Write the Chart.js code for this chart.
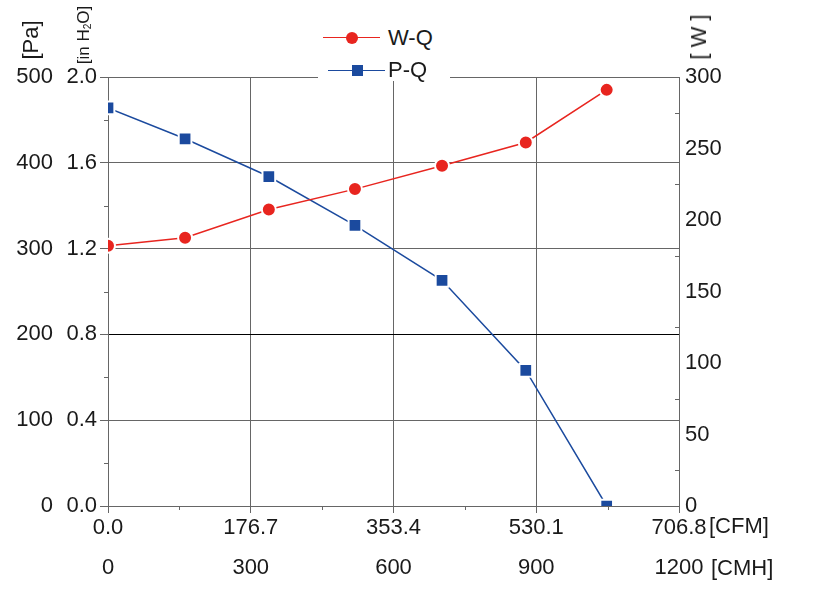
<!DOCTYPE html>
<html><head><meta charset="utf-8">
<script src="https://cdn.jsdelivr.net/npm/chart.js@4.4.1/dist/chart.umd.min.js"></script>
<style>
html,body{margin:0;padding:0;background:#fff;}
#wrap{position:relative;width:817px;height:598px;overflow:hidden;font-family:'Liberation Sans',Arial,sans-serif;color:#1a1a1a;}
canvas{position:absolute;left:0;top:0;}
.t{position:absolute;white-space:nowrap;line-height:1;}
.rot{transform:translate(-50%,-50%) rotate(-90deg);}
.mid{transform:translateY(-50%);}
sub{font-size:0.6em;vertical-align:-0.25em;line-height:0;}
</style></head>
<body><div id="wrap"><canvas id="c" width="817" height="598"></canvas>
<div class="t rot" style="left:31px;top:40px;font-size:22px">[Pa]</div>
<div class="t rot" style="left:83px;top:35px;font-size:17px">[in H<sub>2</sub>O]</div>
<div class="t rot" style="left:699px;top:37px;font-size:22px">[ W ]</div>
<div class="t mid" style="left:709px;top:526px;font-size:22px">[CFM]</div>
<div class="t mid" style="left:711px;top:568px;font-size:22px">[CMH]</div>
<div style="position:absolute;left:318px;top:20px;width:132px;height:61px;background:#fff;"></div>
<div style="position:absolute;left:323px;top:36.5px;width:57px;height:1.5px;background:#e8251f;"></div>
<div style="position:absolute;left:346px;top:31.5px;width:12px;height:12px;border-radius:50%;background:#e8251f;"></div>
<div class="t mid" style="left:388px;top:38px;font-size:22px">W-Q</div>
<div style="position:absolute;left:328px;top:69.5px;width:57px;height:1.5px;background:#1b4a9e;"></div>
<div style="position:absolute;left:352px;top:64.5px;width:11px;height:11px;background:#1b4a9e;"></div>
<div class="t mid" style="left:388px;top:70px;font-size:22px">P-Q</div>
</div>
<script>
// ---- data ----
const airflowCMH = [0, 162, 338, 519, 702, 878, 1048];
const pressurePa = [464, 428, 384, 327, 263, 158, 0];
const powerW = [182, 187.6, 207.4, 221.6, 237.9, 254.2, 291];
const cmhTicks = [0, 300, 600, 900, 1200];
const cfmTicks = [0, 176.7, 353.4, 530.1, 706.8];
const paTicks = [0, 100, 200, 300, 400, 500];
const inH2OTicks = [0, 0.4, 0.8, 1.2, 1.6, 2.0];
const wattTicks = [0, 50, 100, 150, 200, 250, 300];
const seriesNames = ['W-Q', 'P-Q'];

const RED = '#e8251f', BLUE = '#1b4a9e', GRID = '#666666', TXT = '#1a1a1a';
const FONT = {family: "'Liberation Sans', Arial, sans-serif", size: 22};

const minorTicks = {
  id: 'minorTicks',
  afterDraw(chart) {
    const c = chart.ctx, a = chart.chartArea, s = chart.scales;
    c.save(); c.strokeStyle = GRID; c.lineWidth = 1;
    c.beginPath();
    for (let i = 0; i < cmhTicks.length - 1; i++) {
      const x = Math.round(s.x.getPixelForValue((cmhTicks[i] + cmhTicks[i + 1]) / 2)) + 0.5;
      c.moveTo(x, a.bottom); c.lineTo(x, a.bottom + 4);
    }
    for (let i = 0; i < inH2OTicks.length - 1; i++) {
      const y = Math.round(s.yH2O.getPixelForValue((inH2OTicks[i] + inH2OTicks[i + 1]) / 2)) + 0.5;
      c.moveTo(a.left, y); c.lineTo(a.left - 4, y);
    }
    for (let i = 0; i < wattTicks.length - 1; i++) {
      const y = Math.round(s.yW.getPixelForValue((wattTicks[i] + wattTicks[i + 1]) / 2)) + 0.5;
      c.moveTo(a.right, y); c.lineTo(a.right - 4, y);
    }
    c.stroke(); c.restore();
  }
};

new Chart(document.getElementById('c'), {
  type: 'line',
  data: {
    datasets: [
      {label: seriesNames[0], data: airflowCMH.map((q, i) => ({x: q, y: powerW[i]})), yAxisID: 'yW', xAxisID: 'x',
       borderColor: RED, backgroundColor: RED, borderWidth: 1.5, tension: 0,
       pointStyle: 'circle', pointRadius: 7, pointBackgroundColor: RED, pointBorderColor: '#fff', pointBorderWidth: 2},
      {label: seriesNames[1], data: airflowCMH.map((q, i) => ({x: q, y: pressurePa[i]})), yAxisID: 'yPa', xAxisID: 'x',
       borderColor: BLUE, backgroundColor: BLUE, borderWidth: 1.5, tension: 0,
       pointStyle: 'rect', pointRadius: 9, pointBackgroundColor: BLUE, pointBorderColor: '#fff', pointBorderWidth: 2}
    ]
  },
  options: {
    responsive: false, animation: false, devicePixelRatio: 1,
    layout: {padding: {top: 77, bottom: 17, left: 0, right: 0}},
    plugins: {legend: {display: false}, tooltip: {enabled: false}},
    scales: {
      xCFM: {type: 'linear', position: 'bottom', weight: 0, min: 0, max: 706.8,
        afterBuildTicks: s => { s.ticks = cfmTicks.map(v => ({value: v})); },
        afterFit: s => { s.height = 35; },
        ticks: {font: FONT, color: TXT, padding: 2, maxRotation: 0, autoSkip: false, callback: v => v.toFixed(1)},
        grid: {drawOnChartArea: false, drawTicks: true, tickLength: 7, tickColor: GRID},
        border: {display: true, color: GRID}},
      x: {type: 'linear', position: 'bottom', weight: 1, min: 0, max: 1200,
        afterBuildTicks: s => { s.ticks = cmhTicks.map(v => ({value: v})); },
        afterFit: s => { s.height = 40; },
        ticks: {font: FONT, color: TXT, padding: 14, maxRotation: 0, autoSkip: false, callback: v => String(v)},
        grid: {color: GRID, drawTicks: false, lineWidth: 1},
        border: {display: false}},
      yPa: {type: 'linear', position: 'left', weight: 1, min: 0, max: 500,
        afterBuildTicks: s => { s.ticks = paTicks.map(v => ({value: v})); },
        afterFit: s => { s.width = 56; },
        ticks: {font: FONT, color: TXT, padding: 3, callback: v => String(v)},
        grid: {display: false, drawTicks: false}, border: {display: false}},
      yH2O: {type: 'linear', position: 'left', weight: 0, min: 0, max: 2.0,
        afterBuildTicks: s => { s.ticks = inH2OTicks.map(v => ({value: v})); },
        afterFit: s => { s.width = 52; },
        ticks: {font: FONT, color: TXT, padding: 3, callback: v => v.toFixed(1)},
        grid: {color: ctx => (ctx.tick && Math.abs(ctx.tick.value - 0.8) < 1e-6) ? '#000000' : GRID,
               drawTicks: true, tickLength: 8, tickColor: GRID, lineWidth: 1},
        border: {display: true, color: GRID}},
      yW: {type: 'linear', position: 'right', min: 0, max: 300,
        afterBuildTicks: s => { s.ticks = wattTicks.map(v => ({value: v})); },
        afterFit: s => { s.width = 138; },
        ticks: {font: FONT, color: TXT, padding: 6, callback: v => String(v)},
        grid: {drawOnChartArea: false, drawTicks: false},
        border: {display: true, color: GRID}}
    }
  },
  plugins: [minorTicks]
});
</script>
</body></html>
